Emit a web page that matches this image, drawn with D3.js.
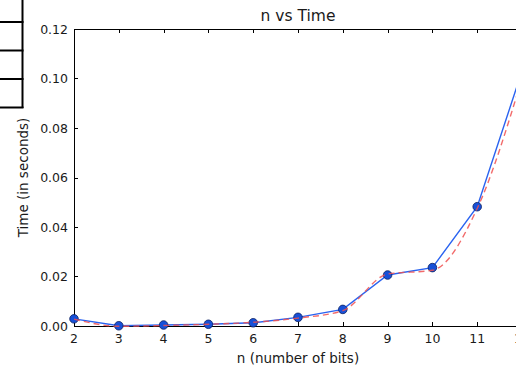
<!DOCTYPE html>
<html>
<head>
<meta charset="utf-8">
<script src="https://cdn.jsdelivr.net/npm/d3@7"></script>
<style>
  html, body { margin: 0; padding: 0; background: #fff; }
  svg { display: block; }
  text { font-family: "DejaVu Sans", sans-serif; fill: #1a1a1a; }
</style>
</head>
<body>
<svg id="chart" width="516" height="368"></svg>
<script>
const nValues = [2, 3, 4, 5, 6, 7, 8, 9, 10, 11, 12];
const timeMeasured = [0.0029, 0.0001, 0.0004, 0.0007, 0.0013, 0.0035, 0.0067, 0.0206, 0.0236, 0.0482, 0.103];
const timeFit = [0.0028, -0.0001, 0.0002, 0.0007, 0.0015, 0.0032, 0.0062, 0.0210, 0.0225, 0.0475, 0.100];
const xTicks = [2, 3, 4, 5, 6, 7, 8, 9, 10, 11, 12];
const yTicks = [0.00, 0.02, 0.04, 0.06, 0.08, 0.10, 0.12];
const titleText = "n vs Time";
const xLabel = "n (number of bits)";
const yLabel = "Time (in seconds)";
const tableRows = [0, 1, 2, 3];

const svg = d3.select("#chart");
const L = 74, R = 522, T = 29, B = 326;
const x = d3.scaleLinear().domain([2, 12]).range([L, R]);
const y = d3.scaleLinear().domain([0, 0.12]).range([B, T]);

// partial table at the top-left
const tb = svg.append("g").attr("stroke", "#000").attr("stroke-width", 2);
tb.append("line").attr("x1", 22.5).attr("x2", 22.5).attr("y1", 0).attr("y2", 108);
const rowY = d3.scaleLinear().domain([0, 3]).range([22, 107.5]);
tb.selectAll("line.row").data(tableRows).enter().append("line")
  .attr("class", "row").attr("x1", 0).attr("x2", 23.5)
  .attr("y1", d => rowY(d)).attr("y2", d => rowY(d));

// axes frame
const frame = svg.append("g").attr("stroke", "#000").attr("stroke-width", 1).attr("fill", "none");
frame.append("rect").attr("x", L + 0.5).attr("y", T + 0.5).attr("width", R - L).attr("height", B - T);

// ticks (inward)
const tk = svg.append("g").attr("stroke", "#000").attr("stroke-width", 1);
tk.selectAll("line.xb").data(xTicks).enter().append("line")
  .attr("x1", d => Math.round(x(d)) + 0.5).attr("x2", d => Math.round(x(d)) + 0.5)
  .attr("y1", B).attr("y2", B - 4);
tk.selectAll("line.xt").data(xTicks).enter().append("line")
  .attr("x1", d => Math.round(x(d)) + 0.5).attr("x2", d => Math.round(x(d)) + 0.5)
  .attr("y1", T).attr("y2", T + 4);
tk.selectAll("line.yl").data(yTicks).enter().append("line")
  .attr("x1", L).attr("x2", L + 4)
  .attr("y1", d => Math.round(y(d)) + 0.5).attr("y2", d => Math.round(y(d)) + 0.5);

// tick labels
svg.append("g").selectAll("text").data(xTicks).enter().append("text")
  .attr("x", d => x(d)).attr("y", 343).attr("text-anchor", "middle")
  .attr("font-size", 12.5).text(d => d);
svg.append("g").selectAll("text").data(yTicks).enter().append("text")
  .attr("x", 68).attr("y", d => y(d) + 4.5).attr("text-anchor", "end")
  .attr("font-size", 12.5).text(d => d.toFixed(2));

// title and labels
svg.append("text").attr("x", (L + R) / 2).attr("y", 21).attr("text-anchor", "middle")
  .attr("font-size", 15.5).text(titleText);
svg.append("text").attr("x", (L + R) / 2).attr("y", 363).attr("text-anchor", "middle")
  .attr("font-size", 13.5).text(xLabel);
svg.append("text").attr("transform", `translate(28,${(T + B) / 2}) rotate(-90)`)
  .attr("text-anchor", "middle").attr("font-size", 13.5).text(yLabel);

// data
const pts = nValues.map((n, i) => ({ n, t: timeMeasured[i], f: timeFit[i] }));
const blueLine = d3.line().x(d => x(d.n)).y(d => y(d.t));
svg.append("path").datum(pts).attr("d", blueLine)
  .attr("fill", "none").attr("stroke", "#2a63f0").attr("stroke-width", 1.4);
svg.append("g").selectAll("circle").data(pts).enter().append("circle")
  .attr("cx", d => x(d.n)).attr("cy", d => y(d.t)).attr("r", 4.3)
  .attr("fill", "#1750d8").attr("stroke", "#0b2060").attr("stroke-width", 0.8);
const redLine = d3.line().x(d => x(d.n)).y(d => y(d.f)).curve(d3.curveMonotoneX);
svg.append("path").datum(pts).attr("d", redLine)
  .attr("fill", "none").attr("stroke", "#f05050").attr("stroke-opacity", 0.85)
  .attr("stroke-width", 1.4).attr("stroke-dasharray", "6,4");
</script>
</body>
</html>
